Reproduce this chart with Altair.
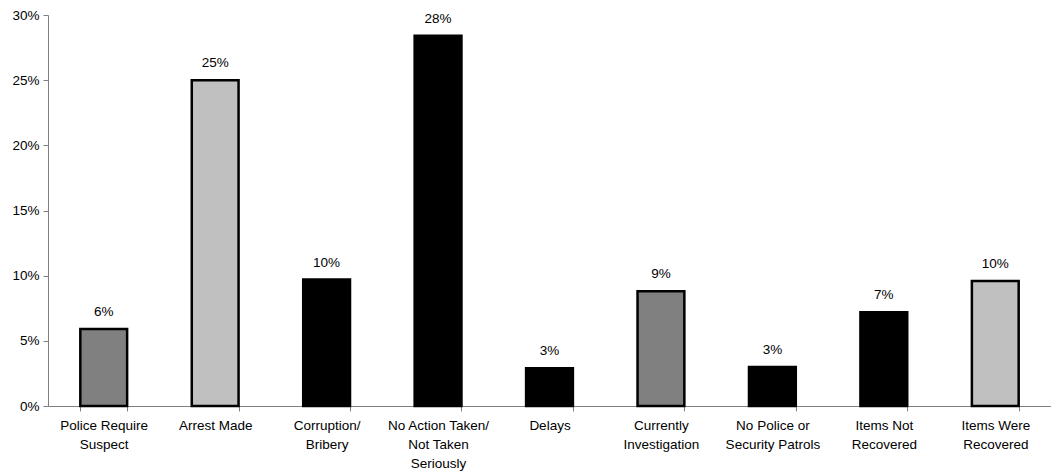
import altair as alt
import pandas as pd

categories = ["Police Require|Suspect", "Arrest Made", "Corruption/|Bribery",
              "No Action Taken/|Not Taken|Seriously", "Delays", "Currently|Investigation",
              "No Police or|Security Patrols", "Items Not|Recovered", "Items Were|Recovered"]
values = [0.059, 0.250, 0.097, 0.284, 0.029, 0.088, 0.030, 0.072, 0.096]
labels = ["6%", "25%", "10%", "28%", "3%", "9%", "3%", "7%", "10%"]
colors = ["#808080", "#C0C0C0", "#000000", "#000000", "#000000",
          "#808080", "#000000", "#000000", "#C0C0C0"]

df = pd.DataFrame({"cat": categories, "val": values, "lab": labels, "col": colors})

FONT = "Liberation Sans"
FS = 13.5

x = alt.X("cat:N", sort=categories,
          scale=alt.Scale(paddingInner=0.58, paddingOuter=0.29),
          axis=alt.Axis(title=None, labelAngle=0, labelExpr="split(datum.label, '|')",
                        tickBand="extent", labelFontSize=FS, labelFont=FONT,
                        labelColor="#000000", labelPadding=7, labelLineHeight=19,
                        labelBaseline="top",
                        domainColor="#808080", tickColor="#808080", tickSize=5))
y = alt.Y("val:Q", scale=alt.Scale(domain=[0, 0.3], nice=False),
          axis=alt.Axis(title=None, format=".0%", values=[0, 0.05, 0.1, 0.15, 0.2, 0.25, 0.3],
                        grid=False, labelFontSize=FS, labelFont=FONT, labelColor="#000000",
                        domainColor="#808080", tickColor="#808080", tickSize=5, labelPadding=4))

bars = alt.Chart(df).mark_bar(stroke="#000000", strokeWidth=2.5).encode(
    x=x, y=y, fill=alt.Fill("col:N", scale=None))

text = alt.Chart(df).mark_text(font=FONT, fontSize=FS, baseline="middle", dy=-17, color="#000000").encode(
    x=alt.X("cat:N", sort=categories), y="val:Q", text="lab:N")

chart = (bars + text).properties(
    width=1003, height=391,
    autosize=alt.AutoSizeParams(type="none"),
    padding={"left": 40, "top": 7, "right": 0, "bottom": 66},
).configure_view(stroke=None)

chart.save("out.html", embed_options={"renderer": "svg", "actions": False})
